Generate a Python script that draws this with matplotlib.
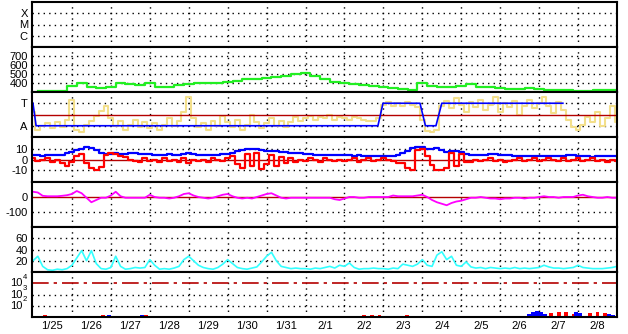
import numpy as np
import matplotlib.pyplot as plt

plt.rcParams['font.family'] = ['Liberation Sans', 'DejaVu Sans']

# time axis: days since 1/25 00:00
day_labels = ['1/25', '1/26', '1/27', '1/28', '1/29', '1/30', '1/31',
              '2/1', '2/2', '2/3', '2/4', '2/5', '2/6', '2/7', '2/8']

# solar wind speed, every 6 hours
speed_t = np.arange(0, 15.01, 0.25)
speed = [np.nan, 310, 310, 315, 370, 395, 355, 345, 360, 405, 385, 380, 395, 350,
         360, 375, 385, 395, 400, 405, 415, 425, 440, 445, 455, 465, 480, 495,
         510, 480, 440, 415, 400, 390, 380, 370, 355, 340, 330, 325, 400, 370,
         360, 355, 365, 385, 360, 355, 345, 335, 330, 345, 330, 320, 320, 318,
         312, 315, 318, 320, 318]

# 3-hourly series
t3 = np.arange(0, 15.01, 0.125)

phi = [200, 60, 90, 110, 70, 120, 80, 140, 300, 60, 40, 100, 130, 170, 210, 250,
       150, 90, 130, 60, 100, 140, 80, 120, 70, 110, 60, 100, 150, 90, 130, 200,
       320, 150, 80, 110, 60, 130, 90, 170, 120, 80, 140, 60, 100, 180, 120, 70,
       110, 150, 90, 130, 80, 120, 160, 130, 150, 170, 140, 160, 150, 180, 140,
       160, 150, 140, 160, 150, 140, 130, 130, 150, 260, 280, 250, 270, 250, 280,
       260, 240, 140, 50, 40, 60, 250, 290, 230, 310, 260, 200, 280, 240, 300,
       220, 260, 320, 200, 270, 240, 290, 180, 250, 300, 230, 270, 320, 250, 190,
       280, 220, 140, 80, 60, 100, 160, 120, 200, 90, 150, 250, 120]

sector_t = [0, 0.08, 8.86, 8.99, 9.94, 10.08, 10.35, 10.5, 13.61]
sector = [270, 90, 90, 270, 270, 90, 90, 270, 270]

bt = [4, 4, 3.5, 4, 4.5, 4, 4.5, 6, 7, 9, 10, 11, 10.5, 9, 6, 5, 5, 5.5, 5, 5,
      6, 5.5, 5, 5, 5, 4.5, 4, 4, 5, 4.5, 4, 5, 6, 5, 4.5, 4, 4, 4, 4.5, 5, 5,
      6, 8, 9, 10, 9.5, 10, 9, 8, 7.5, 8, 7, 6.5, 6, 6, 5.5, 5, 5, 4.5, 4, 4,
      4.5, 4, 4, 4, 4, 3.5, 4, 3.5, 3, 3, 3.5, 3.5, 3, 3.5, 4.5, 6, 8, 10.5, 11,
      11, 10, 10, 10.5, 9, 7, 8, 8, 7, 5, 4, 4, 4, 4, 5, 5, 4.5, 4, 4, 3.5, 3.5,
      3.5, 3, 3.5, 3.5, 3, 3, 3, 3.5, 3, 4, 4, 3, 3, 3, 2.5, 3, 3, 3, 3, 3]

bz = [1, -1, 0, 1, -2, 0, -3, -6, -2, 3, 5, -3, -8, -10, -7, 4, 6, 5, 3, 2, 0,
      -1, -2, 1, -1, 0, -2, 1, -1, 0, -2, 1, -3, 0, -1, 0, -2, 1, 0, -1, 1, 3,
      -4, -8, 5, -6, 6, -9, -4, 4, -6, 2, -3, 1, -2, 0, -1, 1, 0, -2, 1, 0, -1,
      0, -1, 0, 1, -2, 0, 1, -1, 0, 1, 0, -1, -3, -3, -8, -10, 9, 10, 3, -5,
      -10, -10, -8, 6, -6, 5, -2, -2, 0, -1, 0, 1, -1, 0, -2, -1, 0, 1, -1, 0,
      1, -1, 0, 1, 0, -1, 1, -1, 0, 1, -1, 0, 1, -1, 0, -2, 0, -1]

dst = [35, 30, 8, 5, 5, 5, 8, 12, 20, 40, 25, -5, -35, -20, -5, -5, 10, 35, 5,
       -5, -5, -5, -5, -5, 15, 0, -5, -5, -10, -5, 5, 20, 25, 10, 0, -5, -10,
       -5, 5, 15, 20, 5, -5, -10, -5, -10, 0, 10, 20, 25, 10, -5, -10, -5, -5,
       -5, -5, -5, -5, -5, -5, -5, -15, -20, -10, 0, 0, -5, -5, 0, 0, 0, 0, 0,
       10, 5, 5, 5, 5, 10, 15, 0, -20, -35, -45, -55, -40, -30, -25, -15, -5,
       -5, 0, -5, -10, -10, -15, -10, -10, -5, -5, -10, -5, -5, 0, 5, 0, 0, -5,
       0, 0, 0, 10, 15, 5, 0, -5, -5, 0, -5, -5]

kp = [20, 28, 10, 4, 3, 5, 4, 6, 12, 25, 38, 20, 38, 15, 6, 5, 8, 28, 10, 5, 6,
      8, 7, 8, 22, 12, 5, 6, 5, 7, 10, 22, 28, 20, 12, 8, 6, 5, 8, 14, 22, 15,
      8, 6, 5, 7, 9, 18, 28, 35, 20, 10, 8, 6, 7, 6, 6, 5, 7, 6, 8, 10, 7, 12,
      10, 16, 8, 5, 6, 6, 7, 6, 6, 5, 7, 6, 14, 12, 10, 14, 22, 12, 10, 30, 36,
      22, 28, 12, 10, 18, 9, 7, 8, 6, 8, 7, 6, 7, 6, 8, 6, 7, 6, 7, 8, 12, 9, 7,
      7, 6, 7, 8, 12, 8, 7, 6, 6, 6, 7, 8, 10]

# particle flux spikes near the bottom of the last panel
red_t = [0.31, 1.7, 1.8, 1.9, 2.5, 2.9, 3.0, 7.5, 7.7, 8.5, 8.7, 8.9, 9.4, 9.6,
         11.1, 12.4, 12.6, 13.3, 13.5, 13.7, 13.9, 14.3, 14.5, 14.7]
red_f = [15, 13, 14, 13, 13, 14, 13, 12, 13, 14, 15, 14, 13, 14, 12, 12, 13,
         24, 28, 26, 20, 25, 28, 22]
blue_t = [1.95, 2.05, 2.8, 9.5, 12.75, 12.85, 12.95, 13.05, 13.15, 13.95,
          14.05, 14.8, 14.9]
blue_f = [14, 13, 14, 13, 20, 30, 35, 28, 18, 30, 25, 18, 16]
flux_levels = [1e2, 1e3, 1e4]
flux_exps = ['2', '3', '4']

W, H = 628, 334
fig = plt.figure(figsize=(W / 100, H / 100), dpi=100)

dot = (0, (1, 3))
darkred = '#b40000'
axes = []
for k in range(7):
    top = 2 + 45 * k
    ax = fig.add_axes([32 / W, 1 - (top + 45) / H, 585 / W, 45 / H])
    ax.set_xlim(-0.025, 15)
    ax.set_xticks([])
    for d in range(1, 15):
        ax.axvline(d, color='black', lw=1, ls=dot, zorder=0)
    for s in ax.spines.values():
        s.set_linewidth(1.5)
    ax.tick_params(axis='y', length=0, pad=3, labelsize=8)
    axes.append(ax)

def hgrid(ax, vals):
    for v in vals:
        ax.axhline(v, color='black', lw=1, ls=dot, zorder=0)

# xray
ax = axes[0]
ax.set_yscale('log')
ax.set_ylim(1e-7, 1e-3)
ax.set_yticks([1e-6, 1e-5, 1e-4])
ax.set_yticklabels(['C', 'M', 'X'])
ax.minorticks_off()
hgrid(ax, [1e-6, 1e-5, 1e-4])

# speed
ax = axes[1]
ax.set_ylim(300, 800)
ax.set_yticks([400, 500, 600, 700])
hgrid(ax, [400, 500, 600, 700])
ax.plot(speed_t, speed, color='#22ee22', lw=1.6, drawstyle='steps-mid')

# IMF sector
ax = axes[2]
ax.set_ylim(0, 360)
ax.set_yticks([90, 270])
ax.set_yticklabels(['A', 'T'])
hgrid(ax, [90, 270])
ax.plot(t3, phi, color='#f3df8a', lw=1.5, drawstyle='steps-mid')
ax.axhline(180, color=darkred, lw=1)
ax.plot(sector_t, sector, color='#0000ff', lw=1.2)

# Bt / Bz
ax = axes[3]
ax.set_ylim(-20.5, 20.5)
ax.set_yticks([-10, 0, 10])
ax.set_yticklabels(['-10', '0', '10'])
hgrid(ax, [-10, 10])
ax.axhline(0, color=darkred, lw=1)
ax.plot(t3, bt, color='#0000ff', lw=1.6, drawstyle='steps-mid')
ax.plot(t3, bz, color='#ff0000', lw=1.6, drawstyle='steps-mid')

# Dst
ax = axes[4]
ax.set_ylim(-200, 100)
ax.set_yticks([-100, 0])
ax.set_yticklabels(['-100', '0'])
hgrid(ax, [-100])
ax.axhline(0, color=darkred, lw=1)
ax.plot(t3, dst, color='#ff00ff', lw=1.3)

# index
ax = axes[5]
ax.set_ylim(0, 80)
ax.set_yticks([20, 40, 60])
hgrid(ax, [20, 40, 60])
ax.plot(t3, kp, color='#33ffff', lw=1.2)

# particles
ax = axes[6]
ax.set_yscale('log')
ax.set_ylim(1e1, 1e5)
ax.set_yticks([])
ax.minorticks_off()
hgrid(ax, flux_levels[:2])
ytr = ax.get_yaxis_transform()
for v, e in zip(flux_levels, flux_exps):
    ax.text(-0.017, v, '10', transform=ytr, ha='right', va='center', fontsize=8)
    ax.text(-0.0155, v * 1.6, e, transform=ytr, ha='left', va='bottom', fontsize=5.5)
ax.axhline(1e4, color=darkred, lw=1.2, ls=(0, (10, 3, 2, 3)))
ax.bar(red_t, np.array(red_f) - 10, bottom=10, width=0.1, color='#ff0000')
ax.bar(blue_t, np.array(blue_f) - 10, bottom=10, width=0.1, color='#0000ff')
ax.set_xticks(np.arange(15) + 0.5)
ax.set_xticklabels(day_labels, fontsize=8)
ax.tick_params(axis='x', length=0, pad=3)

fig.savefig('out.png', dpi=100)
